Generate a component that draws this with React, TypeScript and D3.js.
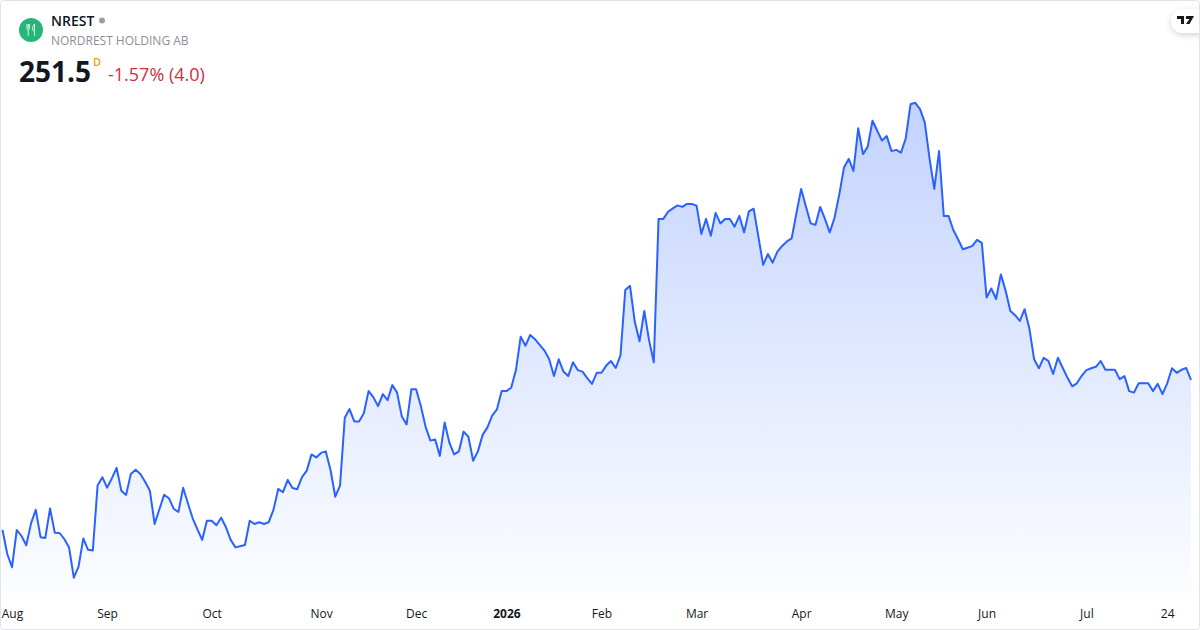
import React, { useRef, useEffect } from 'react';
import * as d3 from 'd3';

// daily closes
const closes = [
  201.5, 193.5, 189.1, 201.5, 199.5, 196.4, 203.7, 208.2, 199.1, 198.8, 208.7, 200.6, 200.5, 198.5, 195.7, 185.6, 189.3, 198.7, 194.9, 194.7,
  216.3, 219.1, 215.6, 218.7, 222.2, 214.6, 213.2, 220.2, 221.6, 220.2, 217.6, 214.6, 203.5, 208.4, 213.2, 212.1, 208.6, 207.5, 215.6, 210.4,
  205.4, 201.7, 198.2, 204.6, 204.6, 203.1, 205.6, 202.4, 198.2, 195.7, 196.1, 196.5, 204.6, 203.5, 204.1, 203.5, 204.1, 208.2, 215.2, 214.1,
  218.2, 215.5, 215.1, 219.1, 221.3, 226.7, 225.7, 227.2, 227.7, 221.5, 212.6, 216.3, 238.9, 241.8, 237.7, 237.7, 240.4, 247.8, 245.8, 242.8,
  246.8, 244.8, 249.8, 247.3, 239.3, 236.7, 248.4, 248.4, 242.8, 235.9, 231.3, 231.7, 226.2, 237.3, 230.6, 226.7, 227.7, 234.3, 232.6, 224.6,
  227.7, 233.2, 235.7, 239.6, 241.7, 247.8, 247.8, 248.9, 254.8, 265.9, 262.9, 266.5, 265.1, 263.2, 261.3, 258.4, 252.8, 258.4, 254.3, 252.8,
  257.4, 254.8, 254.3, 252.1, 250.2, 253.9, 253.9, 256.3, 257.8, 255.5, 259.8, 281.5, 282.9, 270.9, 264.4, 274.5, 264.8, 257.4, 305.2, 305.2,
  307.6, 308.7, 309.7, 309.2, 310.2, 310.2, 309.6, 300.2, 305.2, 299.6, 307.2, 303.7, 305.2, 305.2, 302.6, 306.2, 300.7, 307.7, 308.6, 299.3,
  289.9, 293.5, 290.6, 294.3, 296.2, 297.7, 298.7, 307.1, 315.2, 309.3, 303.7, 303.2, 309.2, 305.2, 300.7, 305.5, 313.2, 322.3, 325.2, 321.2,
  335.4, 326.8, 329.3, 337.9, 334.6, 331.3, 332.8, 327.8, 328.2, 327.3, 332.1, 343.4, 343.9, 341.8, 337.4, 325.4, 315.2, 327.8, 306.2, 306.2,
  301.5, 298.4, 295.1, 295.6, 296.2, 298.2, 297.2, 279.0, 282.0, 278.5, 286.7, 281.3, 274.5, 273.1, 271.2, 275.1, 268.7, 258.4, 255.4, 258.9,
  257.9, 253.5, 258.9, 255.6, 252.3, 249.4, 250.4, 252.9, 254.8, 255.4, 255.9, 257.8, 254.9, 254.9, 254.9, 251.8, 252.8, 247.8, 247.3, 250.4,
  250.4, 250.4, 247.8, 250.2, 246.8, 250.4, 255.4, 253.9, 254.9, 255.5, 251.5,
];

const tickLabels = ['Aug', 'Sep', 'Oct', 'Nov', 'Dec', '2026', 'Feb', 'Mar', 'Apr', 'May', 'Jun', 'Jul', '24'];
const tickIndex = [2, 22, 44, 67, 87, 106, 126, 146, 168, 188, 207, 228, 245];

const symbol = 'NREST';
const companyName = 'NORDREST HOLDING AB';
const lastPrice = '251.5';
const changeText = '-1.57% (4.0)';

const WIDTH = 1200;
const HEIGHT = 630;
const FONT = '"Open Sans", sans-serif';
const BLUE = '#2962FF';

const App: React.FC = () => {
  const svgRef = useRef<SVGSVGElement>(null);

  useEffect(() => {
    if (!svgRef.current) return;
    const svg = d3.select(svgRef.current);
    svg.selectAll('*').remove();

    /* ---------- Scales ---------- */
    const x = d3.scaleLinear().domain([0, closes.length - 1]).range([2.5, 1191]);
    const y = d3.scaleLinear().domain([170, 350]).range([624.5, 84.5]);
    const baseY = 600;

    /* ---------- Gradient + filter ---------- */
    const defs = svg.append('defs');
    const grad = defs
      .append('linearGradient')
      .attr('id', 'area-fill')
      .attr('gradientUnits', 'userSpaceOnUse')
      .attr('x1', 0)
      .attr('x2', 0)
      .attr('y1', y(d3.max(closes)!))
      .attr('y2', baseY);
    grad.append('stop').attr('offset', 0).attr('stop-color', BLUE).attr('stop-opacity', 0.28);
    grad.append('stop').attr('offset', 1).attr('stop-color', BLUE).attr('stop-opacity', 0.01);

    const shadow = defs.append('filter').attr('id', 'pill-shadow').attr('x', '-30%').attr('y', '-30%').attr('width', '160%').attr('height', '180%');
    shadow.append('feDropShadow').attr('dx', 0).attr('dy', 2).attr('stdDeviation', 3).attr('flood-color', '#131722').attr('flood-opacity', 0.18);

    const card = defs.append('clipPath').attr('id', 'card-clip');
    card.append('rect').attr('x', 0.5).attr('y', 0.5).attr('width', WIDTH - 1).attr('height', HEIGHT - 1).attr('rx', 4);

    svg.append('rect').attr('width', WIDTH).attr('height', HEIGHT).attr('fill', '#ffffff');

    /* ---------- Area + line ---------- */
    const area = d3
      .area<number>()
      .x((_, i) => x(i))
      .y0(baseY)
      .y1(d => y(d));
    const line = d3
      .line<number>()
      .x((_, i) => x(i))
      .y(d => y(d));

    svg.append('path').datum(closes).attr('d', area).attr('fill', 'url(#area-fill)');
    svg
      .append('path')
      .datum(closes)
      .attr('d', line)
      .attr('fill', 'none')
      .attr('stroke', BLUE)
      .attr('stroke-width', 2)
      .attr('stroke-linejoin', 'round');

    /* ---------- Time axis ---------- */
    const axis = d3
      .axisBottom(x)
      .tickValues(tickIndex)
      .tickSize(0)
      .tickFormat((_, i) => tickLabels[i]);
    const axisG = svg.append('g').attr('transform', 'translate(0,606)').call(axis);
    axisG.select('.domain').remove();
    axisG
      .selectAll<SVGTextElement, number>('text')
      .attr('font-family', FONT)
      .attr('font-size', 12)
      .attr('fill', '#131722')
      .attr('font-weight', (_, i) => (tickLabels[i] === '2026' ? 700 : 400));

    /* ---------- Header ---------- */
    const logo = svg.append('g').attr('transform', 'translate(31,30)');
    logo.append('circle').attr('r', 12).attr('fill', '#26B67A');
    logo
      .append('path')
      .attr('d', 'M-4,-6V-2Q-4,0 -2.8,0V6M-2.8,-6V-2M-1.6,-6V-2Q-1.6,0 -2.8,0M3.5,-6Q1,-3 1.5,0L3.5,1V6M3.5,-6V1')
      .attr('fill', 'none')
      .attr('stroke', '#ffffff')
      .attr('stroke-width', 0.9)
      .attr('opacity', 0.9);

    svg
      .append('text')
      .attr('x', 51)
      .attr('y', 26)
      .attr('font-family', FONT)
      .attr('font-size', 14)
      .attr('font-weight', 600)
      .attr('fill', '#131722')
      .text(symbol);
    svg.append('circle').attr('cx', 102).attr('cy', 20.5).attr('r', 3).attr('fill', '#9c9fa8');

    svg
      .append('text')
      .attr('x', 51)
      .attr('y', 45)
      .attr('font-family', FONT)
      .attr('font-size', 12)
      .attr('fill', '#8c8f98')
      .text(companyName);

    svg
      .append('text')
      .attr('x', 19)
      .attr('y', 82)
      .attr('font-family', FONT)
      .attr('font-size', 28)
      .attr('font-weight', 700)
      .attr('fill', '#131722')
      .text(lastPrice);
    svg
      .append('text')
      .attr('x', 93)
      .attr('y', 66)
      .attr('font-family', FONT)
      .attr('font-size', 11)
      .attr('font-weight', 600)
      .attr('fill', '#FF9800')
      .text('D');
    svg
      .append('text')
      .attr('x', 108)
      .attr('y', 81)
      .attr('font-family', FONT)
      .attr('font-size', 18)
      .attr('fill', '#CC2F3C')
      .text(changeText);

    /* ---------- TradingView badge ---------- */
    const clipped = svg.append('g').attr('clip-path', 'url(#card-clip)');
    clipped
      .append('rect')
      .attr('x', 1171)
      .attr('y', 9)
      .attr('width', 50)
      .attr('height', 24)
      .attr('rx', 12)
      .attr('fill', '#ffffff')
      .attr('filter', 'url(#pill-shadow)');
    clipped
      .append('path')
      .attr('transform', 'translate(1177,16)')
      .attr('d', 'M0,0H7V8H4V3H0ZM9.5,0H17L12.5,8H9L12.5,3H9.5Z')
      .attr('fill', '#131722');
    clipped.append('circle').attr('cx', 1187).attr('cy', 17.5).attr('r', 1.3).attr('fill', '#131722');

    /* ---------- Card border ---------- */
    svg
      .append('rect')
      .attr('x', 0.5)
      .attr('y', 0.5)
      .attr('width', WIDTH - 1)
      .attr('height', HEIGHT - 1)
      .attr('rx', 3)
      .attr('fill', 'none')
      .attr('stroke', '#E0E3EB');
  }, []);

  return (
    <div style={{ position: 'absolute', left: 0, top: 0, width: WIDTH, height: HEIGHT }}>
      <svg ref={svgRef} width={WIDTH} height={HEIGHT} style={{ display: 'block' }} />
    </div>
  );
};

export default App;
